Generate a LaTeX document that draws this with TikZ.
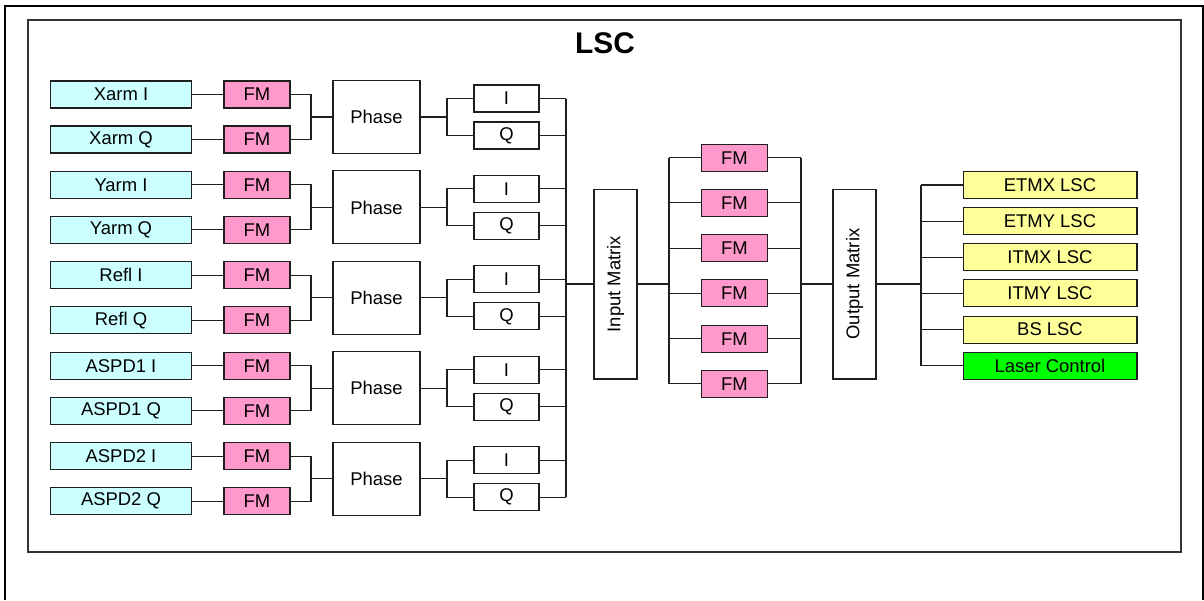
\documentclass[tikz,border=0pt]{standalone}
\usepackage{fontspec}
\setmainfont{Liberation Sans}
\usetikzlibrary{positioning,calc}
\definecolor{LscCyan}{RGB}{204,255,255}
\definecolor{LscPink}{RGB}{255,153,204}
\definecolor{LscYellow}{RGB}{255,255,153}
\definecolor{LscGreen}{RGB}{0,255,0}
\definecolor{LscLine}{RGB}{30,30,30}
\tikzset{
  lsc/base/.style={
    draw=LscLine,
    line width=0.6pt,
    fill=white,
    align=center,
    inner sep=0pt,
    minimum height=0.54cm,
    font=\fontsize{10.5}{11.5}\selectfont
  },
  lsc/sig/.style={lsc/base, fill=LscCyan, minimum width=2.82cm},
  lsc/fm/.style={lsc/base, fill=LscPink, minimum width=1.32cm},
  lsc/phase/.style={lsc/base, minimum width=1.74cm, minimum height=1.46cm},
  lsc/iq/.style={lsc/base, minimum width=1.30cm},
  lsc/matrix/.style={lsc/base, minimum width=0.86cm, minimum height=3.8cm},
  lsc/out/.style={lsc/base, fill=LscYellow, minimum width=3.48cm},
  lsc/ctrl/.style={lsc/base, fill=LscGreen, minimum width=3.48cm},
  lsc/wire/.style={draw=LscLine, line width=0.6pt},
  lsc/title/.style={font=\fontsize{17}{19}\selectfont\bfseries}
}

\begin{document}
\begin{tikzpicture}[x=0.02cm,y=-0.02cm]
  \useasboundingbox (0,0) rectangle (1204,600);
  % frames
  \draw[line width=1.1pt] (5,600) -- (5,6) -- (1203,6) -- (1203,600);
  \draw[line width=0.7pt,draw=black!80] (28,20) rectangle (1181,552);
  \node[lsc/title] (title) at (605,43) {LSC};

  % input chains
  \coordinate (busT) at (566,98.5);
  \coordinate (busB) at (566,497.1);
  \foreach \k/\nm in {0/Xarm,1/Yarm,2/Refl,3/ASPD1,4/ASPD2}{
    \pgfmathsetmacro\py{117+90.4*\k}
    \node[lsc/sig] (sigI\k) at (121,{\py-22.5}) {\nm\ I};
    \node[lsc/sig] (sigQ\k) at (121,{\py+22.5}) {\nm\ Q};
    \node[lsc/fm] (fmI\k) at (257,{\py-22.5}) {FM};
    \node[lsc/fm] (fmQ\k) at (257,{\py+22.5}) {FM};
    \node[lsc/phase] (ph\k) at (376.5,\py) {Phase};
    \node[lsc/iq] (dI\k) at (506.5,{\py-18.5}) {I};
    \node[lsc/iq] (dQ\k) at (506.5,{\py+18.5}) {Q};
    \coordinate (jn\k) at (311,\py);
    \coordinate (sp\k) at (447,\py);
    \draw[lsc/wire] (sigI\k) -- (fmI\k);
    \draw[lsc/wire] (sigQ\k) -- (fmQ\k);
    \draw[lsc/wire] (fmI\k.east) -| (jn\k) |- (fmQ\k.east);
    \draw[lsc/wire] (jn\k) -- (ph\k);
    \draw[lsc/wire] (ph\k) -- (sp\k);
    \draw[lsc/wire] (dI\k.west) -| (sp\k) |- (dQ\k.west);
    \draw[lsc/wire] (dI\k) -- (dI\k -| busT);
    \draw[lsc/wire] (dQ\k) -- (dQ\k -| busT);
  }
  \draw[lsc/wire,line width=1pt] (busT) -- (busB);

  % matrices
  \node[lsc/matrix] (inmat) at (615.5,284) {\rotatebox{90}{Input Matrix}};
  \node[lsc/matrix] (outmat) at (854.5,284) {\rotatebox{90}{Output Matrix}};
  \draw[lsc/wire,line width=1pt] (busT |- inmat) -- (inmat);

  % filter bank
  \coordinate (fmL) at (669,284);
  \coordinate (fmR) at (801,284);
  \foreach \j in {0,...,5}{
    \node[lsc/fm] (bank\j) at (734.5,{157.7+45.25*\j}) {FM};
    \draw[lsc/wire] (fmL |- bank\j) -- (bank\j) -- (fmR |- bank\j);
  }
  \draw[lsc/wire] (fmL |- bank0) -- (fmL |- bank5);
  \draw[lsc/wire] (fmR |- bank0) -- (fmR |- bank5);
  \draw[lsc/wire,line width=1pt] (inmat) -- (fmL);
  \draw[lsc/wire,line width=1pt] (fmR) -- (outmat);

  % outputs
  \coordinate (outbus) at (921,284);
  \node[lsc/out] (etmx) at (1050,185) {ETMX LSC};
  \node[lsc/out] (etmy) at (1050,221.15) {ETMY LSC};
  \node[lsc/out] (itmx) at (1050,257.3) {ITMX LSC};
  \node[lsc/out] (itmy) at (1050,293.45) {ITMY LSC};
  \node[lsc/out] (bs) at (1050,329.6) {BS LSC};
  \node[lsc/ctrl] (laser) at (1050,365.75) {Laser Control};
  \draw[lsc/wire,line width=1pt] (outmat) -- (outbus);
  \draw[lsc/wire] (outbus |- etmx) -- (outbus |- laser);
  \foreach \o in {etmx,etmy,itmx,itmy,bs,laser}{
    \draw[lsc/wire] (outbus |- \o) -- (\o);
  }
\end{tikzpicture}
\end{document}
